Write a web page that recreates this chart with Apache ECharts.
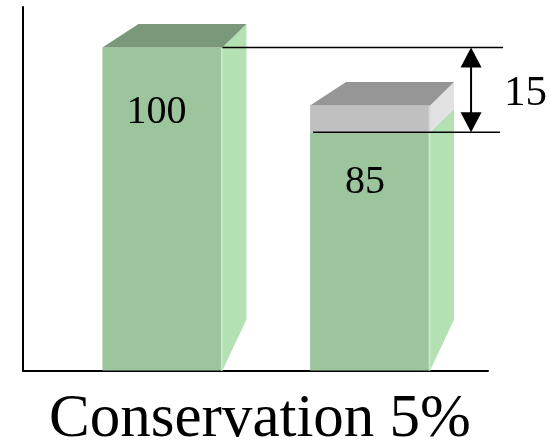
<!DOCTYPE html>
<html>
<head>
<meta charset="utf-8">
<script src="https://cdn.jsdelivr.net/npm/echarts@6/dist/echarts.min.js"></script>
<style>
html,body{margin:0;padding:0;background:#fff;}
#chart{width:558px;height:445px;}
</style>
</head>
<body>
<div id="chart"></div>
<script>
// ---- data ----
const barSlots = [1, 2];                 // category slots on the x axis
const barLabels = ['100', '85'];         // printed values
const barHeights = [100, 73.7];          // drawn green heights (as in the picture)
const capHeights = [0, 8.3];             // drawn grey cap heights
const differenceLabel = '15';
const xAxisTitle = 'Conservation 5%';

// ---- styles ----
const SERIF = '"Liberation Serif","Times New Roman",serif';
const HALF = 60, DXL = 36, DXR = 24, DY = 23.5, FLOOR_DY = 51;
const labelOffsetX = [-6, -5];
const labelOffsetY = [65, 50];

const chart = echarts.init(document.getElementById('chart'), null, {renderer: 'canvas'});

const barData = barSlots.map((s, i) => [s, barHeights[i], capHeights[i], barLabels[i]]);

function renderBar(params, api) {
  const i = params.dataIndex;
  const x = api.value(0), h = api.value(1), c = api.value(2);
  const base = api.coord([x, 0]);
  const top = api.coord([x, h]);
  const capTop = api.coord([x, h + c]);
  const L = base[0] - HALF, R = base[0] + HALF;
  const by = base[1], ty = top[1], cy = capTop[1];
  const ch = [];
  // green side face
  ch.push({type: 'polygon', shape: {points: [[R, ty], [R + DXR, ty - DY], [R + DXR, by - FLOOR_DY], [R, by]]},
    style: {fill: '#b3e1b3'}});
  // green front
  ch.push({type: 'rect', shape: {x: L, y: ty, width: 2 * HALF, height: by - ty},
    style: {fill: '#9dc59d'}});
  ch.push({type: 'line', shape: {x1: R - 0.5, y1: ty, x2: R - 0.5, y2: by},
    style: {stroke: '#c4ecc4', lineWidth: 2}});
  if (c > 0) {
    ch.push({type: 'polygon', shape: {points: [[R, cy], [R + DXR, cy - DY], [R + DXR, ty - DY], [R, ty]]},
      style: {fill: '#e2e2e2'}});
    ch.push({type: 'rect', shape: {x: L, y: cy, width: 2 * HALF, height: ty - cy},
      style: {fill: '#c0c0c0'}});
    ch.push({type: 'line', shape: {x1: R - 0.5, y1: cy, x2: R - 0.5, y2: ty},
      style: {stroke: '#d8d8d8', lineWidth: 2}});
    ch.push({type: 'polygon', shape: {points: [[L, cy], [L + DXL, cy - DY], [R + DXR, cy - DY], [R, cy]]},
      style: {fill: '#969696'}});
  } else {
    ch.push({type: 'polygon', shape: {points: [[L, ty], [L + DXL, ty - DY], [R + DXR, ty - DY], [R, ty]]},
      style: {fill: '#7a987a'}});
  }
  ch.push({type: 'text', style: {text: api.value(3) + '', x: base[0] + labelOffsetX[i], y: ty + labelOffsetY[i],
    align: 'center', verticalAlign: 'middle', fill: '#000', font: '40px ' + SERIF}});
  return {type: 'group', children: ch};
}

function renderDiff(params, api) {
  const p1 = api.coord([api.value(0), api.value(1)]);
  const p2 = api.coord([api.value(2), api.value(3)]);
  const y1 = p1[1], y2 = p2[1], cx = p2[0];
  const ax = cx + 101;
  const ch = [
    {type: 'line', shape: {x1: p1[0] + HALF, y1: y1, x2: cx + 133, y2: y1}, style: {stroke: '#000', lineWidth: 1.5}},
    {type: 'line', shape: {x1: cx - 57, y1: y2, x2: cx + 130, y2: y2}, style: {stroke: '#000', lineWidth: 1.5}},
    {type: 'line', shape: {x1: ax, y1: y1 + 10, x2: ax, y2: y2 - 10}, style: {stroke: '#000', lineWidth: 2}},
    {type: 'polygon', shape: {points: [[ax, y1], [ax - 10.5, y1 + 20], [ax + 10.5, y1 + 20]]}, style: {fill: '#000'}},
    {type: 'polygon', shape: {points: [[ax, y2], [ax - 10.5, y2 - 20], [ax + 10.5, y2 - 20]]}, style: {fill: '#000'}},
    {type: 'text', style: {text: api.value(4) + '', x: cx + 134, y: (y1 + y2) / 2 + 4, align: 'left', verticalAlign: 'middle',
      fill: '#000', font: '43px ' + SERIF}}
  ];
  return {type: 'group', children: ch};
}

chart.setOption({
  animation: false,
  backgroundColor: '#fff',
  grid: {left: 23, right: 70, top: 7, bottom: 74.5, containLabel: false, outerBoundsMode: 'none'},
  xAxis: {
    type: 'value', min: 0.3285, max: 2.568,
    axisLine: {show: true, onZero: false, lineStyle: {color: '#000', width: 2}},
    axisTick: {show: false}, axisLabel: {show: false}, splitLine: {show: false},
    name: xAxisTitle, nameLocation: 'middle', nameGap: 19,
    nameTextStyle: {fontFamily: SERIF, fontSize: 61, color: '#000', padding: [0, 0, 0, 9]}
  },
  yAxis: {
    type: 'value', min: 0, max: 112.5,
    axisLine: {show: true, onZero: false, lineStyle: {color: '#000', width: 2}},
    axisTick: {show: false}, axisLabel: {show: false}, splitLine: {show: false}
  },
  series: [
    {type: 'custom', renderItem: renderBar, data: barData, clip: false},
    {type: 'custom', renderItem: renderDiff, clip: false, z: 5,
      data: [[barSlots[0], barHeights[0], barSlots[1], barHeights[1], differenceLabel]]}
  ]
});
</script>
</body>
</html>
